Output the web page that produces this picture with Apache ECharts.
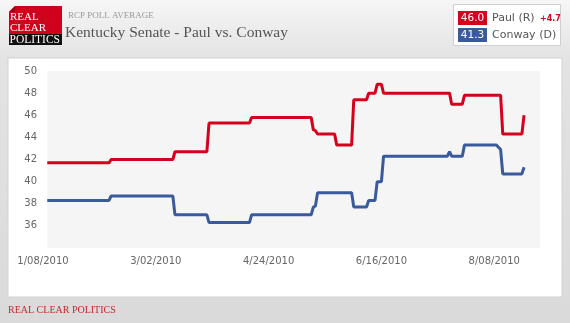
<!DOCTYPE html>
<html><head><meta charset="utf-8">
<script src="https://cdn.jsdelivr.net/npm/echarts@6/dist/echarts.min.js"></script>
<style>html,body{margin:0;padding:0;background:#ddd}#c{width:570px;height:323px}</style>
</head><body><div id="c"></div>
<script>
// ---- data ----
const axisStartDate = '2010-01-08';
const xTickLabels = ['1/08/2010', '3/02/2010', '4/24/2010', '6/16/2010', '8/08/2010'];
const xTickStepDays = 53;
const yTickLabels = [36, 38, 40, 42, 44, 46, 48, 50];

const paulDates = ['2010-01-10','2010-02-08','2010-02-09','2010-03-10','2010-03-11','2010-03-26','2010-03-27',
  '2010-04-15','2010-04-16','2010-05-14','2010-05-15','2010-05-16','2010-05-17','2010-05-25','2010-05-26',
  '2010-06-02','2010-06-03','2010-06-09','2010-06-10','2010-06-13','2010-06-14','2010-06-16','2010-06-17',
  '2010-07-18','2010-07-19','2010-07-24','2010-07-25','2010-08-11','2010-08-12','2010-08-21','2010-08-22'];
const paulValues = [41.7,41.7,42.0,42.0,42.7,42.7,45.3,
  45.3,45.8,45.8,44.7,44.6,44.3,44.3,43.3,
  43.3,47.4,47.4,48.0,48.0,48.8,48.8,48.0,
  48.0,47.0,47.0,47.8,47.8,44.3,44.3,46.0];

const conwayDates = ['2010-01-10','2010-02-08','2010-02-09','2010-03-10','2010-03-11','2010-03-26','2010-03-27',
  '2010-04-15','2010-04-16','2010-05-14','2010-05-15','2010-05-16','2010-05-17','2010-06-02','2010-06-03',
  '2010-06-09','2010-06-10','2010-06-13','2010-06-14','2010-06-16','2010-06-17','2010-07-17','2010-07-18',
  '2010-07-19','2010-07-24','2010-07-25','2010-08-09','2010-08-10','2010-08-11','2010-08-12','2010-08-21','2010-08-22'];
const conwayValues = [38.3,38.3,38.7,38.7,37.0,37.0,36.3,
  36.3,37.0,37.0,37.7,37.8,39.0,39.0,37.7,
  37.7,38.3,38.3,40.0,40.0,42.3,42.3,42.7,
  42.3,42.3,43.3,43.3,43.1,42.9,40.7,40.7,41.3];

const seriesNames = ['Paul (R)', 'Conway (D)'];
// ---- end data ----

const DAY = 86400000;
const t0 = Date.parse(axisStartDate);
const toDay = d => (Date.parse(d) - t0) / DAY;
const pairs = (ds, vs) => ds.map((d, i) => [toDay(d), vs[i]]);
const paulData = pairs(paulDates, paulValues);
const conwayData = pairs(conwayDates, conwayValues);
const xMax = 233.5;
const yMin = 34, yMax = 50;
const firstDay = Math.min(paulData[0][0], conwayData[0][0]);

const RED = '#d6001c', BLUE = '#3a5a9e';
const SANS = 'DejaVu Sans';
const pLast = paulValues[paulValues.length - 1];
const cLast = conwayValues[conwayValues.length - 1];
const spread = (pLast - cLast).toFixed(1);

const chart = echarts.init(document.getElementById('c'), null, {renderer: 'canvas'});
chart.setOption({
  animation: false,
  backgroundColor: new echarts.graphic.LinearGradient(0, 0, 0, 1, [
    {offset: 0, color: '#f6f6f6'}, {offset: 0.18, color: '#e3e3e3'}, {offset: 1, color: '#dadada'}]),
  grid: {left: 43, right: 30, top: 71, bottom: 75},
  xAxis: {
    type: 'value', min: 0, max: xMax, interval: xTickStepDays,
    axisLine: {show: false}, axisTick: {show: false},
    splitLine: {show: false},
    axisLabel: {
      color: '#666', fontFamily: SANS, fontSize: 10, margin: 8, showMaxLabel: true,
      formatter: v => {
        const i = Math.round(v / xTickStepDays);
        return (Math.abs(v - i * xTickStepDays) < 1e-6 && xTickLabels[i]) ? xTickLabels[i] : '';
      }
    }
  },
  yAxis: {
    type: 'value', min: yMin, max: yMax, interval: 2,
    axisLine: {show: false}, axisTick: {show: false},
    splitLine: {show: true, lineStyle: {color: '#ffffff', width: 1}},
    axisLabel: {
      color: '#666', fontFamily: SANS, fontSize: 10, margin: 6,
      formatter: v => yTickLabels.includes(v) ? String(v) : ''
    }
  },
  graphic: [
    {type: 'rect', z: -20, silent: true, shape: {x: 8, y: 58, width: 554, height: 239}, style: {fill: '#ffffff', stroke: '#d2d2d2', lineWidth: 1}},
    // logo
    {type: 'polygon', z: 100, shape: {points: [[15, 6], [62, 6], [62, 34], [9, 34], [9, 12]]}, style: {fill: '#d0021b'}},
    {type: 'polygon', z: 100, shape: {points: [[15, 6], [15, 12], [9, 12]]}, style: {fill: '#8e0a14'}},
    {type: 'rect', z: 100, shape: {x: 9, y: 34, width: 53, height: 11}, style: {fill: '#111111'}},
    {type: 'text', z: 101, x: 10, y: 17.5, style: {text: 'REAL', fill: '#fff', font: '11px "Liberation Serif"', verticalAlign: 'middle'}},
    {type: 'text', z: 101, x: 10, y: 28, style: {text: 'CLEAR', fill: '#fff', font: '11px "Liberation Serif"', verticalAlign: 'middle'}},
    {type: 'text', z: 101, x: 9.5, y: 40, style: {text: 'POLITICS', fill: '#fff', font: '11.5px "Liberation Serif"', verticalAlign: 'middle'}},
    // titles
    {type: 'text', z: 100, x: 68, y: 16, style: {text: 'RCP POLL AVERAGE', fill: '#999', font: '9px "Liberation Serif"', verticalAlign: 'middle'}},
    {type: 'text', z: 100, x: 65, y: 33, style: {text: 'Kentucky Senate - Paul vs. Conway', fill: '#555', font: '15.5px "Liberation Serif"', verticalAlign: 'middle'}},
    // legend box
    {type: 'rect', z: 100, shape: {x: 453.5, y: 4.5, width: 107, height: 41}, style: {fill: '#fff', stroke: '#cfcfcf', lineWidth: 1}},
    {type: 'rect', z: 101, shape: {x: 458, y: 11, width: 29, height: 14}, style: {fill: RED}},
    {type: 'rect', z: 101, shape: {x: 458, y: 28, width: 29, height: 14}, style: {fill: BLUE}},
    {type: 'text', z: 102, x: 472.5, y: 18, style: {text: pLast.toFixed(1), fill: '#fff', font: '10.5px "DejaVu Sans"', align: 'center', verticalAlign: 'middle'}},
    {type: 'text', z: 102, x: 472.5, y: 35, style: {text: cLast.toFixed(1), fill: '#fff', font: '10.5px "DejaVu Sans"', align: 'center', verticalAlign: 'middle'}},
    {type: 'text', z: 102, x: 492, y: 18, style: {text: seriesNames[0], fill: '#555', font: '11px "DejaVu Sans"', verticalAlign: 'middle'}},
    {type: 'text', z: 102, x: 540, y: 19, style: {text: '+' + spread, fill: RED, font: 'bold 8px "DejaVu Sans"', verticalAlign: 'middle'}},
    {type: 'text', z: 102, x: 492, y: 35, style: {text: seriesNames[1], fill: '#555', font: '11px "DejaVu Sans"', verticalAlign: 'middle'}},
    // footer
    {type: 'text', z: 100, x: 8, y: 310, style: {text: 'REAL CLEAR POLITICS', fill: '#c8282e', font: '10px "Liberation Serif"', verticalAlign: 'middle'}}
  ],
  series: [
    {
      type: 'line', name: 'plot-bg', data: [], z: -1, silent: true,
      markArea: {silent: true, itemStyle: {color: '#f5f5f5'}, data: [[{xAxis: firstDay, yAxis: yMin}, {xAxis: xMax, yAxis: yMax}]]}
    },
    {type: 'line', name: seriesNames[1], data: conwayData, showSymbol: false, lineStyle: {color: BLUE, width: 3}, itemStyle: {color: BLUE}, z: 3},
    {type: 'line', name: seriesNames[0], data: paulData, showSymbol: false, lineStyle: {color: RED, width: 3}, itemStyle: {color: RED}, z: 4}
  ]
});
</script></body></html>
